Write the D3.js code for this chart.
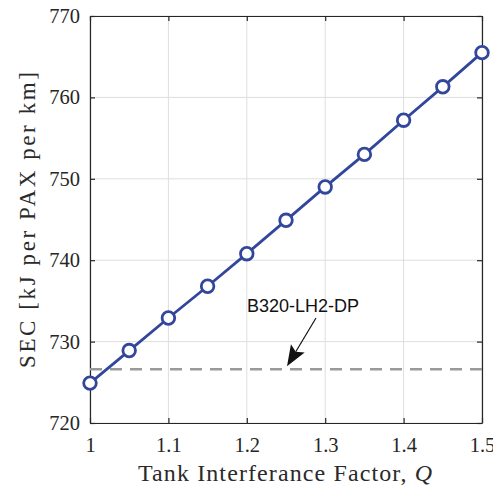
<!DOCTYPE html>
<html><head><meta charset="utf-8">
<script src="https://cdn.jsdelivr.net/npm/d3@7"></script>
<style>body{margin:0;background:#fff}svg{display:block}</style>
</head><body>
<script>
const qValues = [1, 1.05, 1.1, 1.15, 1.2, 1.25, 1.3, 1.35, 1.4, 1.45, 1.5];
const secValues = [724.9, 728.9, 732.9, 736.8, 740.8, 744.9, 749.0, 753.0, 757.2, 761.3, 765.5];
const refValue = 726.6;
const refLabel = "B320-LH2-DP";
const xTicks = [1, 1.1, 1.2, 1.3, 1.4, 1.5];
const yTicks = [720, 730, 740, 750, 760, 770];

const W = 493, H = 488;
const m = {l: 90, r: 11, t: 16, b: 65};
const svg = d3.select("body").append("svg").attr("width", W).attr("height", H);
const x = d3.scaleLinear().domain([1, 1.5]).range([m.l, W - m.r]);
const y = d3.scaleLinear().domain([720, 770]).range([H - m.b, m.t]);
const serif = "'Liberation Serif', 'Times New Roman', serif";

// grid
svg.append("g").selectAll("line").data(xTicks).join("line")
  .attr("x1", d => x(d)).attr("x2", d => x(d)).attr("y1", y(720)).attr("y2", y(770))
  .attr("stroke", "#dedede").attr("stroke-width", 1);
svg.append("g").selectAll("line").data(yTicks).join("line")
  .attr("y1", d => y(d)).attr("y2", d => y(d)).attr("x1", x(1)).attr("x2", x(1.5))
  .attr("stroke", "#dedede").attr("stroke-width", 1);

// axes
const fmtX = d => d3.format("")(+d.toFixed(1));
const ax = svg.append("g").attr("transform", `translate(0,${y(720)})`)
  .call(d3.axisBottom(x).tickValues(xTicks).tickFormat(fmtX).tickSizeInner(-5).tickSizeOuter(0).tickPadding(14));
const ay = svg.append("g").attr("transform", `translate(${x(1)},0)`)
  .call(d3.axisLeft(y).tickValues(yTicks).tickSizeInner(-5).tickSizeOuter(0).tickPadding(10));
const at = svg.append("g").attr("transform", `translate(0,${y(770)})`)
  .call(d3.axisTop(x).tickValues(xTicks).tickFormat("").tickSizeInner(-5).tickSizeOuter(0));
const ar = svg.append("g").attr("transform", `translate(${x(1.5)},0)`)
  .call(d3.axisRight(y).tickValues(yTicks).tickFormat("").tickSizeInner(-5).tickSizeOuter(0));
[ax, ay, at, ar].forEach(g => {
  g.select(".domain").attr("stroke", "#262626").attr("stroke-width", 1.2);
  g.selectAll(".tick line").attr("stroke", "#262626").attr("stroke-width", 1.2);
  g.selectAll("text").attr("font-family", serif).attr("font-size", 20.5).attr("fill", "#262626");
});

// labels
const xl = svg.append("text").attr("x", 138).attr("y", 481)
  .attr("textLength", 294).attr("lengthAdjust", "spacing")
  .attr("font-family", serif).attr("font-size", 24).attr("fill", "#2a2a2a");
xl.append("tspan").text("Tank Interferance Factor, ");
xl.append("tspan").attr("font-style", "italic").text("Q");
svg.append("text").attr("transform", `translate(35,368) rotate(-90)`)
  .attr("textLength", 296).attr("lengthAdjust", "spacing")
  .attr("font-family", serif).attr("font-size", 23).attr("fill", "#2a2a2a")
  .text("SEC [kJ per PAX per km]");

// reference dashed line
svg.append("line").attr("x1", x(1)).attr("x2", x(1.5)).attr("y1", y(refValue)).attr("y2", y(refValue))
  .attr("stroke", "#9a9a9a").attr("stroke-width", 2.5).attr("stroke-dasharray", "12,8");

// data line
const pts = qValues.map((q, i) => [q, secValues[i]]);
svg.append("path").datum(pts)
  .attr("d", d3.line().x(d => x(d[0])).y(d => y(d[1])))
  .attr("fill", "none").attr("stroke", "#32469b").attr("stroke-width", 2.8);
svg.append("g").selectAll("circle").data(pts).join("circle")
  .attr("cx", d => x(d[0])).attr("cy", d => y(d[1])).attr("r", 6.3)
  .attr("fill", "#fff").attr("stroke", "#32469b").attr("stroke-width", 2.8);

// annotation
svg.append("text").attr("x", 247).attr("y", 312).attr("font-family", "'Liberation Sans', Arial, sans-serif")
  .attr("font-size", 18).attr("fill", "#111").text(refLabel);
const tipX = x(1.25) + 1, tipY = y(refValue) - 3;
const sX = 316, sY = 318;
const ang = Math.atan2(tipY - sY, tipX - sX);
const hl = 17, hw = 8;
const bx = tipX - hl * Math.cos(ang), by = tipY - hl * Math.sin(ang);
svg.append("line").attr("x1", sX).attr("y1", sY).attr("x2", bx).attr("y2", by)
  .attr("stroke", "#111").attr("stroke-width", 1.2);
const px = -Math.sin(ang), py = Math.cos(ang);
const back = 4;
svg.append("path").attr("d", `M${tipX},${tipY} L${bx + px * hw - back * Math.cos(ang)},${by + py * hw - back * Math.sin(ang)} L${bx},${by} L${bx - px * hw - back * Math.cos(ang)},${by - py * hw - back * Math.sin(ang)} Z`)
  .attr("fill", "#111");
</script>
</body></html>
